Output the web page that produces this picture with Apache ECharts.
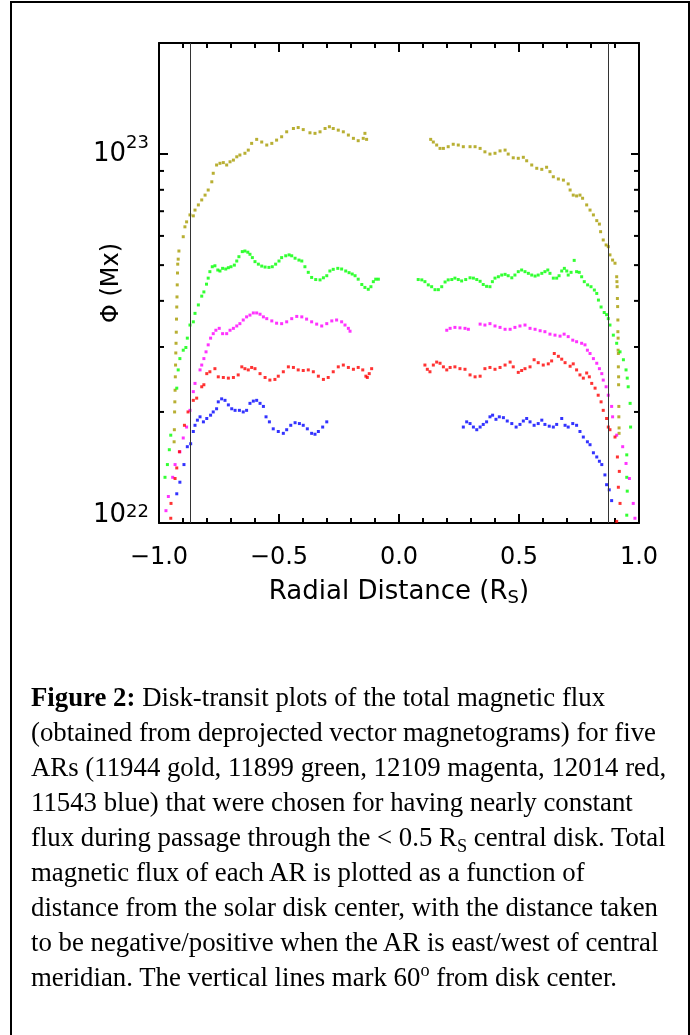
<!DOCTYPE html>
<html>
<head>
<meta charset="utf-8">
<script src="https://cdn.jsdelivr.net/npm/echarts@6/dist/echarts.min.js"></script>
<style>
html, body { margin: 0; padding: 0; background: #fff; overflow: hidden; }
#frame { position: absolute; left: 10px; top: 1px; width: 676px; height: 1100px; border: 2px solid #000; border-bottom: none; }
#chart { position: absolute; left: 0; top: 0; width: 690px; height: 1035px; }
#caption { position: absolute; left: 31px; top: 680px; font-family: "Liberation Serif", "Times New Roman", serif; font-size: 26.8px; line-height: 35px; color: #000; white-space: nowrap; }
#caption sub, #caption sup { font-size: 0.68em; line-height: 0; }
</style>
</head>
<body>
<div id="frame"></div>
<div id="chart"></div>
<div id="caption"><b>Figure 2:</b> Disk-transit plots of the total magnetic flux<br>(obtained from deprojected vector magnetograms) for five<br>ARs (11944 gold, 11899 green, 12109 magenta, 12014 red,<br>11543 blue) that were chosen for having nearly constant<br>flux during passage through the &lt; 0.5 R<sub>S</sub> central disk. Total<br>magnetic flux of each AR is plotted as a function of<br>distance from the solar disk center, with the distance taken<br>to be negative/positive when the AR is east/west of central<br>meridian. The vertical lines mark 60<sup>o</sup> from disk center.</div>
<script>
// flux in units of 10^22 Mx, x in solar radii
var fluxExp = 22;

var goldX = [-0.937,-0.936,-0.935,-0.934,-0.933,-0.932,-0.931,-0.930,-0.929,-0.928,-0.927,-0.926,-0.925,-0.924,-0.923,-0.922,-0.920,-0.917,
	-0.899,-0.892,-0.885,-0.871,-0.857,-0.850,-0.836,-0.822,-0.808,-0.795,-0.780,-0.774,-0.760,-0.746,-0.732,-0.718,-0.704,-0.690,-0.676,-0.663,
	-0.642,-0.628,-0.614,-0.593,-0.572,-0.551,-0.530,-0.510,-0.489,-0.468,-0.440,-0.420,-0.399,-0.371,-0.350,-0.329,-0.308,-0.290,-0.274,-0.253,
	-0.232,-0.211,-0.190,-0.170,-0.149,-0.142,-0.135,
	0.132,0.143,0.157,0.171,0.185,0.205,0.226,0.247,0.268,0.296,0.317,0.338,0.358,0.379,0.400,0.421,0.442,0.455,0.476,0.497,
	0.518,0.532,0.553,0.574,0.595,0.615,0.629,0.643,0.664,0.685,0.705,0.713,0.726,0.740,0.754,0.765,0.782,0.796,0.810,0.824,
	0.835,0.840,0.851,0.863,0.872,0.879,0.890,0.900,0.907,
	0.908,0.909,0.910,0.911,0.912,0.912,0.913,0.913,0.914,0.914,0.915,0.915,0.916,0.916,0.917,0.917];
var goldY = [1.66,1.79,2.00,2.13,2.29,2.49,2.68,2.89,3.07,3.29,3.57,3.85,4.10,4.42,4.76,5.03,5.19,5.46,
	5.97,6.35,6.55,6.84,6.80,7.05,7.28,7.51,7.74,7.99,8.41,8.87,9.34,9.44,9.48,9.34,9.53,9.63,9.83,9.94,
	10.05,10.25,10.69,10.96,10.78,10.58,10.69,10.91,11.14,11.49,11.73,11.80,11.65,11.42,11.38,11.49,11.73,11.86,11.73,11.61,
	11.49,11.26,11.03,10.87,11.03,11.38,10.96,
	10.96,10.78,10.58,10.36,10.36,10.47,10.63,10.58,10.47,10.47,10.47,10.36,10.14,10.00,10.05,10.20,10.25,10.00,9.77,9.74,
	9.80,9.59,9.34,9.15,9.09,9.21,8.96,8.68,8.56,8.50,8.30,7.99,7.74,7.70,7.74,7.59,7.28,7.05,6.84,6.60,
	6.46,6.16,5.85,5.67,5.61,5.33,5.16,5.06,4.65,
	4.51,4.37,4.06,3.86,3.55,3.30,3.17,2.94,2.88,2.65,2.49,2.37,2.07,1.94,1.81,1.75];

var greenX = [-0.975,-0.965,-0.957,-0.951,-0.926,-0.920,-0.913,-0.899,-0.888,-0.882,-0.871,-0.857,-0.850,-0.836,-0.822,-0.813,-0.802,-0.795,-0.788,-0.778,
	-0.767,-0.755,-0.746,-0.735,-0.722,-0.711,-0.700,-0.686,-0.676,-0.667,-0.653,-0.642,-0.630,-0.621,-0.611,-0.600,-0.586,-0.572,-0.558,-0.542,
	-0.528,-0.514,-0.500,-0.489,-0.472,-0.458,-0.447,-0.433,-0.417,-0.405,-0.392,-0.378,-0.364,-0.347,-0.329,-0.315,-0.301,-0.288,-0.274,-0.255,
	-0.239,-0.222,-0.208,-0.195,-0.183,-0.170,-0.155,-0.142,-0.128,-0.117,-0.107,-0.097,-0.086,
	0.080,0.095,0.108,0.122,0.136,0.150,0.164,0.178,0.192,0.205,0.220,0.233,0.247,0.261,0.278,0.296,0.310,0.324,0.338,0.351,
	0.365,0.379,0.389,0.400,0.414,0.428,0.442,0.455,0.470,0.483,0.497,0.511,0.525,0.539,0.553,0.567,0.580,0.595,0.608,0.620,
	0.629,0.643,0.657,0.667,0.678,0.689,0.699,0.705,0.717,0.730,0.740,0.751,0.761,0.772,0.786,0.800,0.814,0.824,0.831,0.842,
	0.855,0.865,0.872,0.879,0.893,0.907,0.921,0.935,0.946,0.951,0.955,0.963,0.965,0.949,0.949,0.951,0.949];
var greenY = [1.33,1.44,1.58,1.73,2.32,2.60,2.79,2.94,2.99,3.17,3.44,3.51,3.70,3.90,4.12,4.23,4.44,4.61,4.80,4.95,
	4.98,4.85,4.82,4.90,4.88,4.92,4.95,5.00,5.13,5.27,5.44,5.46,5.42,5.35,5.24,5.11,5.03,4.97,4.94,4.93,
	4.95,5.03,5.13,5.24,5.30,5.33,5.30,5.22,5.16,5.13,4.95,4.78,4.63,4.57,4.56,4.62,4.68,4.82,4.87,4.90,
	4.88,4.82,4.77,4.73,4.68,4.58,4.43,4.35,4.30,4.37,4.51,4.58,4.58,
	4.57,4.56,4.51,4.42,4.37,4.29,4.29,4.37,4.50,4.56,4.57,4.61,4.57,4.53,4.57,4.62,4.61,4.57,4.52,4.43,
	4.38,4.37,4.51,4.61,4.65,4.70,4.72,4.68,4.62,4.70,4.80,4.85,4.80,4.75,4.70,4.67,4.70,4.75,4.80,4.85,
	4.75,4.61,4.61,4.68,4.82,4.90,4.82,4.70,4.78,5.15,4.80,4.78,4.65,4.51,4.42,4.37,4.28,4.19,4.02,3.85,
	3.72,3.67,3.58,3.44,3.23,3.07,2.91,2.77,2.60,2.47,2.34,2.11,1.82,1.53,1.33,1.22,1.05];

var magentaX = [-0.971,-0.961,-0.943,-0.933,-0.913,-0.899,-0.885,-0.871,-0.857,-0.850,-0.829,-0.822,-0.813,-0.804,-0.795,-0.785,-0.774,-0.763,-0.749,-0.735,
	-0.718,-0.704,-0.690,-0.676,-0.663,-0.649,-0.635,-0.621,-0.607,-0.593,-0.579,-0.565,-0.551,-0.530,-0.510,-0.489,-0.468,-0.447,-0.426,-0.405,
	-0.385,-0.364,-0.343,-0.322,-0.301,-0.280,-0.260,-0.239,-0.225,-0.211,-0.204,
	0.199,0.213,0.233,0.254,0.275,0.289,0.338,0.358,0.379,0.400,0.421,0.442,0.463,0.483,0.504,0.525,0.546,0.567,0.588,0.608,
	0.629,0.650,0.671,0.688,0.705,0.724,0.740,0.761,0.775,0.785,0.796,0.810,0.824,0.835,0.845,0.851,0.863,0.872,0.886,0.890,
	0.907,0.932,0.946,0.960,0.976,0.983];
var magentaY = [1.08,1.18,1.33,1.44,1.56,1.70,1.82,2.02,2.27,2.39,2.60,2.68,2.79,2.91,3.04,3.17,3.26,3.33,3.37,3.26,
	3.26,3.33,3.37,3.42,3.47,3.55,3.62,3.66,3.71,3.71,3.68,3.62,3.58,3.53,3.48,3.47,3.51,3.58,3.63,3.62,
	3.57,3.51,3.46,3.42,3.47,3.53,3.55,3.51,3.44,3.37,3.31,
	3.33,3.37,3.39,3.38,3.37,3.35,3.46,3.44,3.47,3.42,3.39,3.35,3.35,3.39,3.42,3.44,3.37,3.35,3.32,3.30,
	3.25,3.23,3.21,3.25,3.20,3.13,3.10,3.07,3.04,2.94,2.88,2.79,2.71,2.62,2.54,2.44,2.34,2.22,2.07,1.94,
	1.73,1.61,1.45,1.32,1.13,1.03];

var redX = [-0.951,-0.950,-0.933,-0.926,-0.915,-0.894,-0.879,-0.857,-0.843,-0.822,-0.813,-0.801,-0.788,-0.767,-0.753,-0.732,-0.711,-0.690,-0.670,-0.655,
	-0.642,-0.628,-0.614,-0.600,-0.579,-0.558,-0.538,-0.517,-0.503,-0.482,-0.461,-0.440,-0.420,-0.399,-0.378,-0.357,-0.336,-0.315,-0.295,-0.274,
	-0.253,-0.232,-0.211,-0.190,-0.170,-0.151,-0.138,-0.132,-0.124,-0.114,
	0.108,0.118,0.129,0.143,0.157,0.171,0.185,0.199,0.213,0.233,0.254,0.275,0.296,0.317,0.338,0.358,0.379,0.400,0.421,0.442,
	0.463,0.476,0.497,0.511,0.525,0.546,0.563,0.580,0.601,0.622,0.636,0.647,0.664,0.678,0.692,0.713,0.726,0.740,0.754,0.768,
	0.782,0.793,0.803,0.817,0.830,0.842,0.851,0.865,0.872,0.879,0.900,0.910,0.918,0.914,0.921,0.907];
var redY = [1.03,1.13,1.32,1.41,1.56,1.84,2.00,2.15,2.18,2.34,2.37,2.54,2.57,2.62,2.49,2.48,2.47,2.48,2.52,2.65,
	2.62,2.60,2.64,2.62,2.54,2.48,2.44,2.45,2.50,2.57,2.65,2.64,2.60,2.59,2.60,2.57,2.50,2.45,2.48,2.57,
	2.65,2.68,2.64,2.61,2.64,2.60,2.50,2.48,2.54,2.62,
	2.68,2.61,2.57,2.68,2.73,2.71,2.65,2.60,2.64,2.65,2.62,2.61,2.52,2.49,2.50,2.62,2.64,2.61,2.64,2.68,
	2.73,2.65,2.56,2.59,2.62,2.65,2.77,2.72,2.68,2.70,2.75,2.88,2.83,2.78,2.72,2.66,2.70,2.60,2.52,2.47,
	2.55,2.49,2.39,2.32,2.22,2.13,2.02,1.92,1.82,1.79,1.71,1.51,1.38,1.25,1.13,1.01];

var blueX = [-0.926,-0.913,-0.896,-0.882,-0.868,-0.857,-0.850,-0.840,-0.829,-0.815,-0.801,-0.785,-0.774,-0.760,-0.753,-0.739,-0.725,-0.711,-0.697,-0.683,
	-0.665,-0.649,-0.635,-0.621,-0.607,-0.593,-0.579,-0.565,-0.554,-0.540,-0.524,-0.503,-0.482,-0.468,-0.451,-0.433,-0.415,-0.399,-0.382,-0.364,
	-0.350,-0.336,-0.318,-0.301,
	0.268,0.282,0.296,0.310,0.324,0.338,0.351,0.365,0.379,0.390,0.404,0.418,0.435,0.451,0.470,0.488,0.504,0.518,0.532,0.546,
	0.563,0.580,0.595,0.608,0.626,0.643,0.657,0.678,0.692,0.705,0.724,0.740,0.754,0.768,0.785,0.796,0.810,0.824,0.835,0.845,
	0.858,0.865,0.876,0.886];
var blueY = [1.20,1.29,1.44,1.61,1.64,1.77,1.84,1.90,1.94,1.88,1.92,1.96,2.00,2.04,2.13,2.17,2.15,2.09,2.04,2.02,
	2.02,2.00,2.02,2.11,2.14,2.15,2.11,2.07,1.94,1.88,1.80,1.77,1.75,1.79,1.84,1.87,1.86,1.84,1.80,1.75,
	1.74,1.77,1.82,1.88,
	1.82,1.88,1.86,1.82,1.79,1.82,1.85,1.88,1.94,1.96,1.91,1.94,1.93,1.89,1.86,1.82,1.85,1.89,1.92,1.88,
	1.84,1.86,1.90,1.85,1.83,1.82,1.85,1.92,1.84,1.82,1.86,1.84,1.77,1.71,1.66,1.63,1.55,1.51,1.47,1.44,
	1.35,1.27,1.23,1.15];

// 60 degrees from disk center
var meridianX = [-0.866, 0.866];
var yMinorTicks = [2, 3, 4, 5, 6, 7, 8, 9];

var font = 'DejaVu Sans';
var chart = echarts.init(document.getElementById('chart'));

function pairs(xs, ys) {
	var out = [];
	for (var i = 0; i < xs.length; i++) {
		out.push([xs[i], ys[i]]);
	}
	return out;
}

function dots(name, color, xs, ys) {
	return {
		name : name,
		type : 'scatter',
		symbol : 'rect',
		symbolSize : 3,
		itemStyle : { color : color },
		data : pairs(xs, ys),
		silent : true
	};
}

function xLabel(v) {
	var s = Math.abs(v).toFixed(1);
	return v < -1e-9 ? '\u2212' + s : s;
}

function yLabel(v) {
	var e = Math.round(Math.log10(v));
	if (Math.abs(v - Math.pow(10, e)) > 1e-6 * v) {
		return '';
	}
	if (e === 0) {
		return '{lb|10}{ls|' + (fluxExp + e) + '}';
	}
	return '{b|10}{s|' + (fluxExp + e) + '}';
}

var tickStyle = { color : '#000', width : 2 };
var lineStyle = { color : '#000', width : 2 };

var goldSeries = dots('11944', '#a69b00', goldX, goldY);
goldSeries.markLine = {
	silent : true,
	symbol : ['none', 'none'],
	label : { show : false },
	lineStyle : { color : '#333', width : 1, type : 'solid' },
	data : meridianX.map(function(x) { return { xAxis : x }; })
};

var option = {
	animation : false,
	grid : {
		left : 159,
		right : 51,
		top : 43,
		bottom : 512,
		containLabel : false,
		outerBoundsMode : 'none'
	},
	xAxis : [{
		type : 'value',
		min : -1,
		max : 1,
		interval : 0.5,
		position : 'bottom',
		axisLine : { show : true, onZero : false, lineStyle : lineStyle },
		axisTick : { show : true, inside : true, length : 9, lineStyle : tickStyle },
		minorTick : { show : true, splitNumber : 5, length : 5, lineStyle : tickStyle },
		splitLine : { show : false },
		minorSplitLine : { show : false },
		axisLabel : { margin : 23, fontSize : 24, fontFamily : font, color : '#000', formatter : xLabel },
		name : 'Radial Distance (R{s|S})',
		nameLocation : 'middle',
		nameGap : 54,
		nameMoveOverlap : false,
		nameTextStyle : {
			fontSize : 26, fontFamily : font, color : '#000', lineHeight : 30,
			rich : { s : { fontSize : 18, fontFamily : font, color : '#000', lineHeight : 30, verticalAlign : 'bottom' } }
		}
	}, {
		type : 'value',
		min : -1,
		max : 1,
		interval : 0.5,
		position : 'top',
		axisLine : { show : true, onZero : false, lineStyle : lineStyle },
		axisTick : { show : true, inside : true, length : 9, lineStyle : tickStyle },
		minorTick : { show : true, splitNumber : 5, length : 5, lineStyle : tickStyle },
		splitLine : { show : false },
		axisLabel : { show : false }
	}],
	yAxis : [{
		type : 'log',
		logBase : 10,
		min : 1,
		max : 20,
		interval : 1,
		position : 'left',
		axisLine : { show : true, onZero : false, lineStyle : lineStyle },
		axisTick : { show : true, inside : true, length : 9, lineStyle : tickStyle },
		splitLine : { show : false },
		axisLabel : {
			margin : 10, color : '#000', formatter : yLabel,
			rich : {
				b : { fontSize : 26, lineHeight : 40, fontFamily : font, color : '#000' },
				s : { fontSize : 18, lineHeight : 18, fontFamily : font, color : '#000', verticalAlign : 'top' },
				lb : { fontSize : 26, lineHeight : 40, fontFamily : font, color : '#000', padding : [0, 0, 16, 0] },
				ls : { fontSize : 18, lineHeight : 18, fontFamily : font, color : '#000', verticalAlign : 'top' }
			}
		},
		name : '\u03a6 (Mx)',
		nameLocation : 'middle',
		nameRotate : 90,
		nameGap : 35,
		nameMoveOverlap : false,
		nameTextStyle : { fontSize : 24, fontFamily : font, color : '#000' }
	}, {
		type : 'log',
		logBase : 10,
		min : 1,
		max : 20,
		interval : 1,
		position : 'right',
		axisLine : { show : true, onZero : false, lineStyle : lineStyle },
		axisTick : { show : true, inside : true, length : 8, lineStyle : tickStyle },
		splitLine : { show : false },
		axisLabel : { show : false }
	}],
	series : [
		goldSeries,
		dots('11899', '#00ff00', greenX, greenY),
		dots('12109', '#ff00ff', magentaX, magentaY),
		dots('12014', '#ff0000', redX, redY),
		dots('11543', '#0000ff', blueX, blueY),
		{
			// minor ticks of the log axes, left and right
			type : 'custom',
			silent : true,
			z : 5,
			data : yMinorTicks.map(function(v) { return [0, v]; }),
			renderItem : function(params, api) {
				var v = api.value(1);
				var l = api.coord([-1, v]);
				var r = api.coord([1, v]);
				return {
					type : 'group',
					children : [
						{ type : 'line', shape : { x1 : l[0], y1 : l[1], x2 : l[0] + 5, y2 : l[1] }, style : { stroke : '#000', lineWidth : 2 } },
						{ type : 'line', shape : { x1 : r[0] - 5, y1 : r[1], x2 : r[0], y2 : r[1] }, style : { stroke : '#000', lineWidth : 2 } }
					]
				};
			}
		}
	]
};

chart.setOption(option);
</script>
</body>
</html>
